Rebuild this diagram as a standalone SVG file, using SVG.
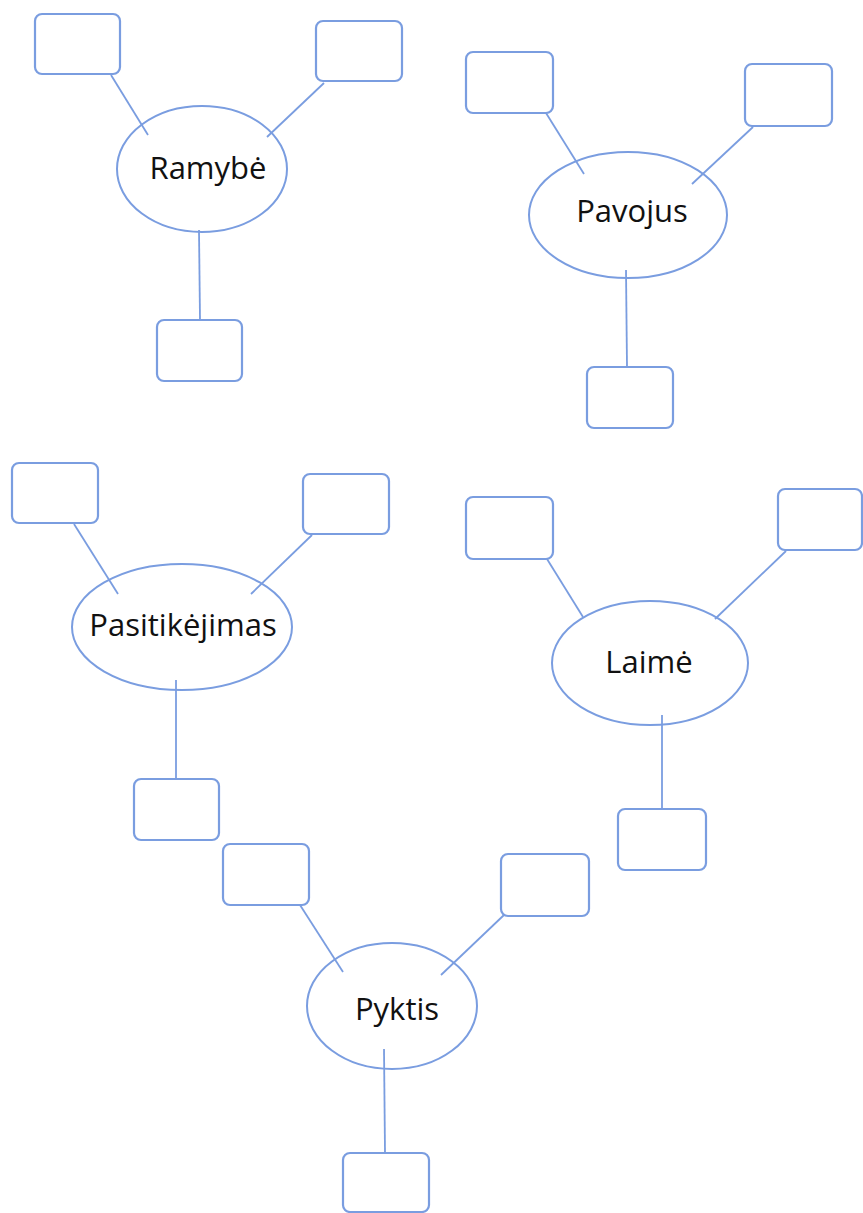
<svg xmlns="http://www.w3.org/2000/svg" width="863" height="1213" viewBox="0 0 863 1213">
<style>
.box{fill:#fff;stroke:#7a9de0;stroke-width:2.2}
.ell{fill:#fff;stroke:#7a9de0;stroke-width:2}
.lbl{font-family:"Open Sans","Liberation Sans",sans-serif;font-size:31px;fill:#111;text-anchor:middle}
#connectors line{stroke:#7a9de0;stroke-width:1.8}
</style>
<rect width="863" height="1213" fill="#fff"/>
<g id="r-b1"><rect class="box" x="35" y="14" width="85" height="60" rx="7"/></g>
<g id="r-b2"><rect class="box" x="316" y="21" width="86" height="60" rx="7"/></g>
<g id="r-b3"><rect class="box" x="157" y="320" width="85" height="61" rx="7"/></g>
<g id="p-b1"><rect class="box" x="466" y="52" width="87" height="61" rx="7"/></g>
<g id="p-b2"><rect class="box" x="745" y="64" width="87" height="62" rx="7"/></g>
<g id="p-b3"><rect class="box" x="587" y="367" width="86" height="61" rx="7"/></g>
<g id="s-b1"><rect class="box" x="12" y="463" width="86" height="60" rx="7"/></g>
<g id="s-b2"><rect class="box" x="303" y="474" width="86" height="60" rx="7"/></g>
<g id="s-b3"><rect class="box" x="134" y="779" width="85" height="61" rx="7"/></g>
<g id="l-b1"><rect class="box" x="466" y="497" width="87" height="62" rx="7"/></g>
<g id="l-b2"><rect class="box" x="778" y="489" width="84" height="61" rx="7"/></g>
<g id="l-b3"><rect class="box" x="618" y="809" width="88" height="61" rx="7"/></g>
<g id="k-b1"><rect class="box" x="223" y="844" width="86" height="61" rx="7"/></g>
<g id="k-b2"><rect class="box" x="501" y="854" width="88" height="62" rx="7"/></g>
<g id="k-b3"><rect class="box" x="343" y="1153" width="86" height="59" rx="7"/></g>
<g id="ramybe"><ellipse class="ell" cx="202" cy="169" rx="85" ry="63"/><text class="lbl" x="208" y="179">Ramybė</text></g>
<g id="pavojus"><ellipse class="ell" cx="628" cy="215" rx="99" ry="63"/><text class="lbl" x="632" y="222">Pavojus</text></g>
<g id="pasitikejimas"><ellipse class="ell" cx="182" cy="627" rx="110" ry="63"/><text class="lbl" x="183" y="636">Pasitikėjimas</text></g>
<g id="laime"><ellipse class="ell" cx="650" cy="663" rx="98" ry="62"/><text class="lbl" x="649" y="673">Laimė</text></g>
<g id="pyktis"><ellipse class="ell" cx="392" cy="1006" rx="85" ry="63"/><text class="lbl" x="397" y="1020">Pyktis</text></g>
<g id="connectors">
<line x1="111" y1="75" x2="148" y2="135"/>
<line x1="324" y1="83" x2="267" y2="137"/>
<line x1="199" y1="230" x2="200" y2="320"/>
<line x1="546" y1="113" x2="584" y2="174"/>
<line x1="753" y1="127" x2="692" y2="184"/>
<line x1="626" y1="270" x2="627" y2="367"/>
<line x1="74" y1="524" x2="118" y2="594"/>
<line x1="312" y1="535" x2="251" y2="594"/>
<line x1="176" y1="680" x2="176" y2="779"/>
<line x1="547" y1="559" x2="583" y2="617"/>
<line x1="786" y1="551" x2="715" y2="619"/>
<line x1="662" y1="715" x2="662" y2="809"/>
<line x1="300" y1="905" x2="343" y2="972"/>
<line x1="504" y1="915" x2="441" y2="975"/>
<line x1="384" y1="1049" x2="385" y2="1153"/>
</g>
</svg>
